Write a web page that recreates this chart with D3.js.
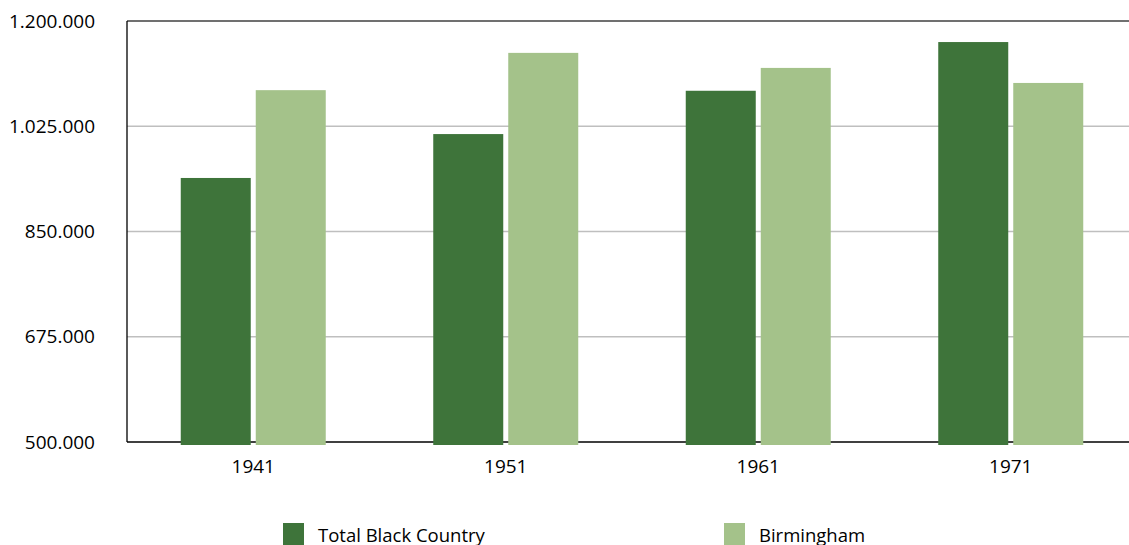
<!DOCTYPE html>
<html>
<head>
<meta charset="utf-8">
<script src="https://cdn.jsdelivr.net/npm/d3@7"></script>
<style>
html,body{margin:0;padding:0;background:#fff;overflow:hidden;}
svg{display:block;font-family:"Open Sans","Lato",sans-serif;}
</style>
</head>
<body>
<svg id="chart" width="1129" height="545"></svg>
<script>
const categories = ["1941", "1951", "1961", "1971"];
const seriesNames = ["Total Black Country", "Birmingham"];
const blackCountry = [939000, 1012000, 1084000, 1165000];
const birmingham = [1085000, 1147000, 1122000, 1097000];
const yTicks = [500000, 675000, 850000, 1025000, 1200000];
const colors = ["#3e743a", "#a4c28a"];

const svg = d3.select("#chart");
const W = 1129, H = 545;
const m = {left: 127, right: -8, top: 21, bottom: 103};
const x0 = d3.scaleBand().domain(categories).range([m.left, W - m.right]).paddingInner(0).paddingOuter(0);
const x1 = d3.scaleBand().domain(seriesNames).range([0, 145]).paddingInner(5/75).paddingOuter(0);
const y = d3.scaleLinear().domain([500000, 1200000]).range([H - m.bottom, m.top]);

const fmt = v => d3.format(",")(v).replace(/,/g, ".");

// gridlines
svg.append("g").selectAll("line").data(yTicks.slice(1, -1)).join("line")
  .attr("x1", m.left).attr("x2", W - m.right)
  .attr("y1", d => y(d)).attr("y2", d => y(d))
  .attr("stroke", "#bfbfbf").attr("stroke-width", 1.5);

// top border line
svg.append("line").attr("x1", m.left).attr("x2", W - m.right)
  .attr("y1", y(1200000)).attr("y2", y(1200000))
  .attr("stroke", "#404040").attr("stroke-width", 1.5);

// axes lines
svg.append("line").attr("x1", m.left).attr("x2", m.left)
  .attr("y1", y(1200000)).attr("y2", y(500000))
  .attr("stroke", "#000").attr("stroke-width", 1.3);
svg.append("line").attr("x1", m.left).attr("x2", W - m.right)
  .attr("y1", y(500000)).attr("y2", y(500000))
  .attr("stroke", "#000").attr("stroke-width", 1.3);

// bars (drawn over the baseline)
const rows = categories.map((c, i) => ({cat: c, vals: [blackCountry[i], birmingham[i]]}));
const groupOffset = (x0.bandwidth() - 145) / 2;
const g = svg.append("g").selectAll("g").data(rows).join("g")
  .attr("transform", d => `translate(${x0(d.cat) + groupOffset},0)`);
g.selectAll("rect").data(d => d.vals.map((v, j) => ({s: seriesNames[j], v, j}))).join("rect")
  .attr("x", d => x1(d.s)).attr("width", x1.bandwidth())
  .attr("y", d => y(d.v)).attr("height", d => y(500000) + 3 - y(d.v))
  .attr("fill", d => colors[d.j]);

// y tick labels
svg.append("g").selectAll("text").data(yTicks).join("text")
  .attr("x", 95).attr("y", d => y(d)).attr("dy", "0.35em")
  .attr("text-anchor", "end").attr("font-size", 19).attr("fill", "#000")
  .text(fmt);

// x labels
svg.append("g").selectAll("text").data(categories).join("text")
  .attr("x", d => x0(d) + x0.bandwidth() / 2).attr("y", 473)
  .attr("text-anchor", "middle").attr("font-size", 19).attr("fill", "#000")
  .text(d => d);

// legend
const legX = [283, 724];
const leg = svg.append("g").selectAll("g").data(seriesNames).join("g")
  .attr("transform", (d, i) => `translate(${legX[i]},523)`);
leg.append("rect").attr("width", 21).attr("height", 22).attr("fill", (d, i) => colors[i]);
leg.append("text").attr("x", 35).attr("y", 18.5).attr("font-size", 18.5).attr("fill", "#000").text(d => d);
</script>
</body>
</html>
